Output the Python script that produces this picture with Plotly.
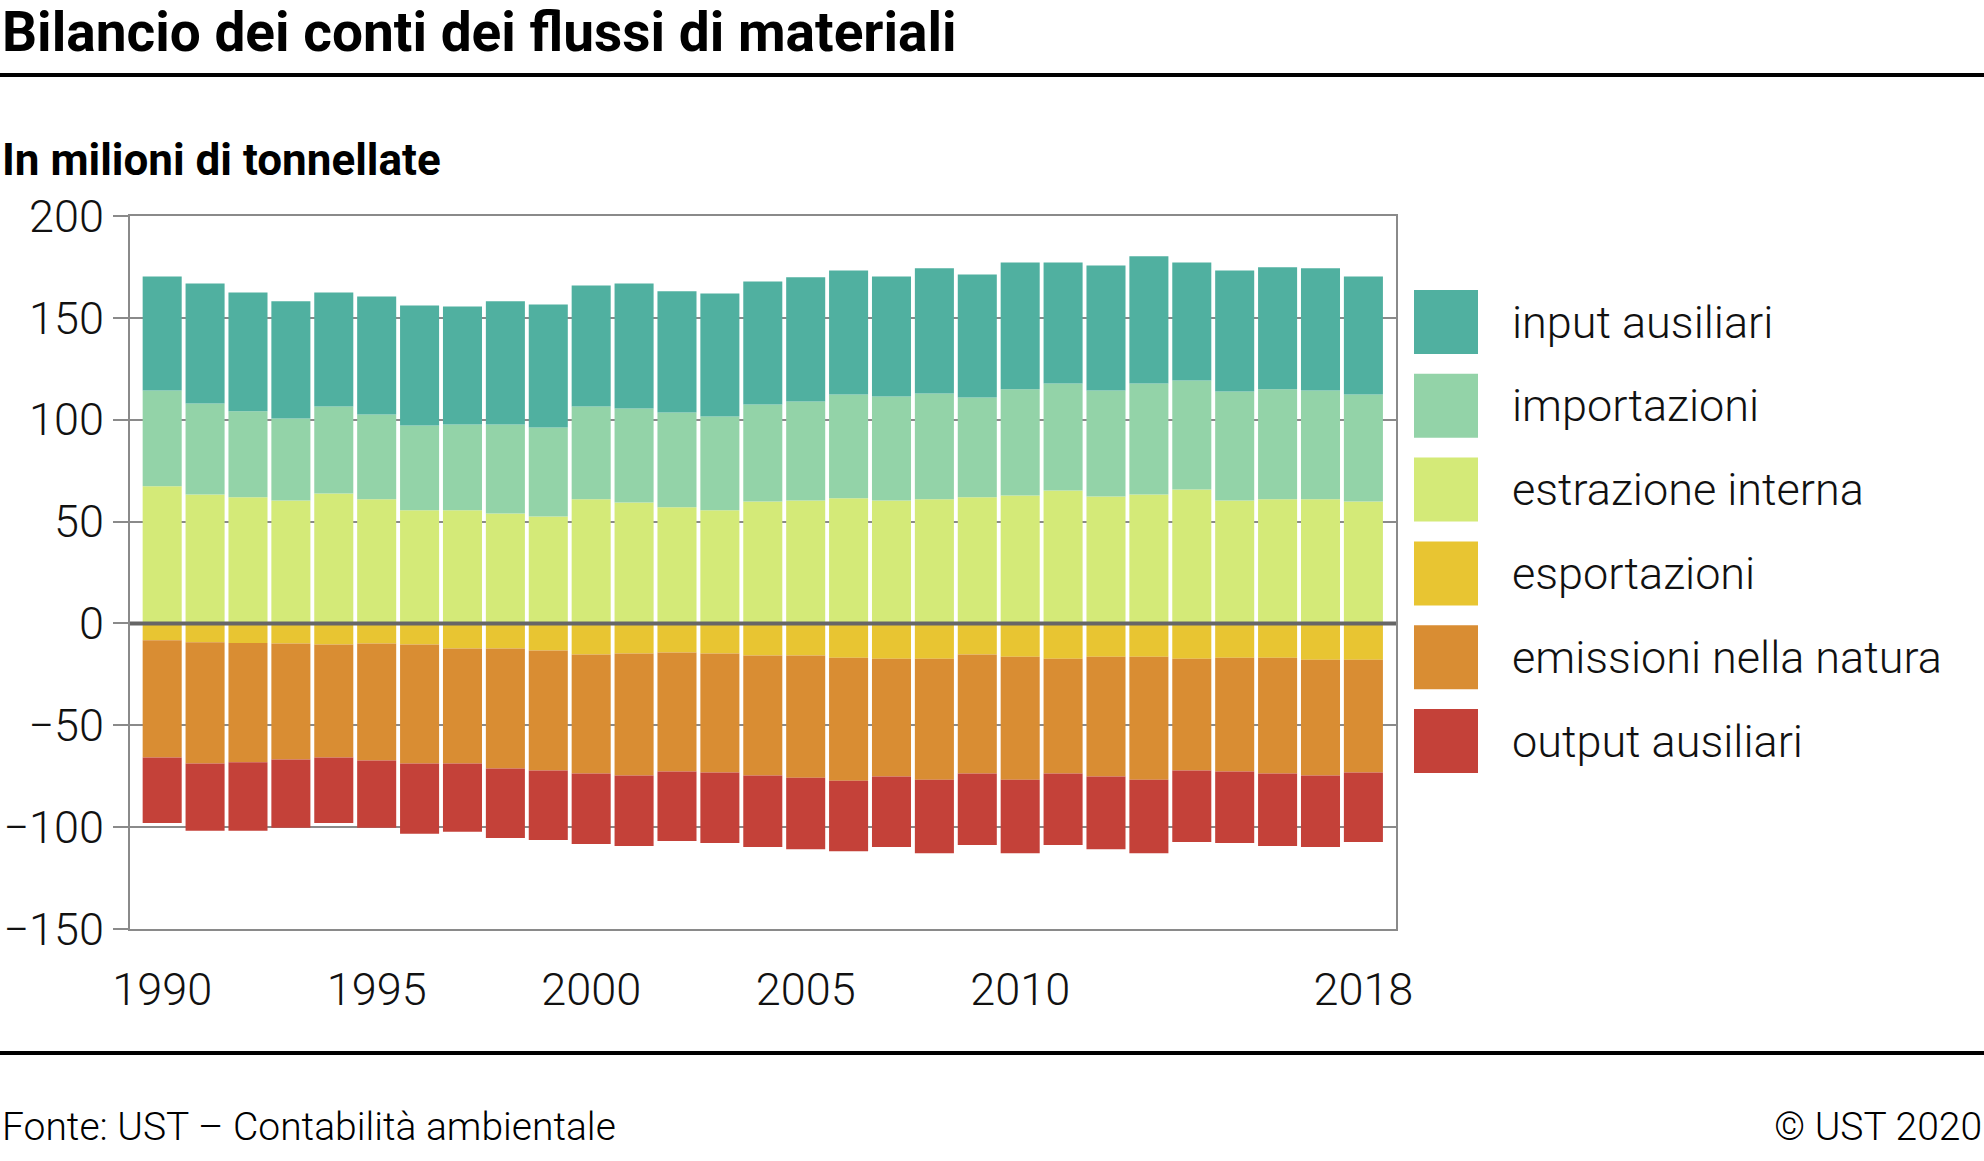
import plotly.graph_objects as go

# ---------------- data (million tonnes) ----------------
years = list(range(1990, 2019))

estrazione_interna = [67.3, 63.3, 61.9, 60.4, 63.8, 60.9, 55.5, 55.5, 54.0, 52.5,
                      60.9, 59.4, 57.0, 55.5, 59.9, 60.4, 61.4, 60.4, 60.9, 61.9,
                      62.8, 65.3, 62.3, 63.3, 65.8, 60.4, 60.9, 60.9, 59.9]
importazioni = [47.1, 44.7, 42.2, 40.2, 42.7, 41.7, 41.7, 42.2, 43.7, 43.7,
                45.6, 46.1, 46.6, 46.1, 47.6, 48.6, 51.0, 51.0, 52.0, 49.0,
                52.1, 52.5, 52.1, 54.5, 53.5, 53.5, 54.0, 53.5, 52.5]
input_ausiliari = [55.9, 58.9, 58.4, 57.5, 56.0, 57.9, 58.9, 57.9, 60.4, 60.4,
                   59.4, 61.4, 59.4, 60.4, 60.4, 60.9, 60.9, 58.9, 61.4, 60.4,
                   62.3, 59.4, 61.3, 62.4, 57.9, 59.4, 59.9, 59.9, 57.9]
esportazioni = [-8.3, -9.3, -9.6, -9.8, -10.3, -9.8, -10.3, -12.3, -12.3, -13.3,
                -15.3, -14.8, -14.3, -14.8, -15.8, -15.8, -16.8, -17.3, -17.3, -15.3,
                -16.3, -17.3, -16.3, -16.3, -17.3, -16.8, -16.8, -17.8, -17.8]
emissioni_natura = [-57.5, -59.4, -58.6, -57.0, -55.5, -57.5, -58.4, -56.4, -58.9, -58.9,
                    -58.4, -59.9, -58.4, -58.4, -58.9, -59.9, -60.4, -57.9, -59.4, -58.4,
                    -60.4, -56.4, -58.9, -60.4, -54.9, -55.9, -56.9, -56.9, -55.4]
output_ausiliari = [-32.2, -33.1, -33.6, -33.5, -32.2, -33.0, -34.6, -33.6, -34.1, -34.1,
                    -34.6, -34.6, -34.1, -34.6, -35.1, -35.1, -34.6, -34.6, -36.1, -35.1,
                    -36.1, -35.1, -35.6, -36.1, -35.1, -35.1, -35.6, -35.1, -34.1]

x_tickvals = [1990, 1995, 2000, 2005, 2010, 2018]
y_tickvals = [-150, -100, -50, 0, 50, 100, 150, 200]

series = [
    ("estrazione interna", estrazione_interna, "#d4ea78"),
    ("importazioni", importazioni, "#93d3a8"),
    ("input ausiliari", input_ausiliari, "#50b0a0"),
    ("esportazioni", esportazioni, "#e8c532"),
    ("emissioni nella natura", emissioni_natura, "#d98d33"),
    ("output ausiliari", output_ausiliari, "#c44139"),
]
legend_order = ["input ausiliari", "importazioni", "estrazione interna",
                "esportazioni", "emissioni nella natura", "output ausiliari"]

# ---------------- layout geometry (pixels) ----------------
W, H = 1984, 1161
L, R, T, B = 130, 1396, 216, 929
FONT = "Roboto"


def px_x(px):
    return (px - L) / (R - L)


def px_y(py):
    return (B - py) / (B - T)


fig = go.Figure()
for name, vals, col in series:
    fig.add_trace(go.Bar(x=years, y=vals, name=name, marker=dict(color=col, line=dict(width=0)),
                         showlegend=False))

axis_col = "#8a8a8a"
fig.update_layout(
    width=W, height=H,
    margin=dict(l=L, r=W - R, t=T, b=H - B, pad=0, autoexpand=False),
    paper_bgcolor="white", plot_bgcolor="white",
    barmode="relative", bargap=0.09,
    showlegend=False,
    font=dict(family=FONT, color="#111"),
)
fig.update_xaxes(
    range=[1989.25, 2018.76], tickvals=x_tickvals, ticktext=[str(v) for v in x_tickvals],
    showgrid=False, zeroline=False, automargin=False,
    showline=True, mirror=True, linecolor=axis_col, linewidth=2,
    ticks="outside", ticklen=20, tickcolor="rgba(0,0,0,0)",
    tickfont=dict(family=FONT, size=45, weight=300, color="#111"),
)
fig.update_yaxes(
    range=[-150, 200], tickvals=y_tickvals,
    showgrid=True, gridcolor=axis_col, gridwidth=2, zeroline=False, automargin=False,
    showline=True, mirror=True, linecolor=axis_col, linewidth=2,
    ticks="outside", ticklen=15, tickwidth=2, tickcolor=axis_col,
    tickfont=dict(family=FONT, size=45, weight=300, color="#111"),
)

shapes = []
# zero line above bars
shapes.append(dict(type="line", xref="paper", yref="y", x0=0, x1=1, y0=0, y1=0,
                   line=dict(color="#666666", width=4), layer="above"))
# horizontal rules
for py in (75, 1053):
    shapes.append(dict(type="line", xref="paper", yref="paper", x0=px_x(0), x1=px_x(W),
                       y0=px_y(py), y1=px_y(py), line=dict(color="black", width=4), layer="above"))

annotations = [
    dict(text="<b>Bilancio dei conti dei flussi di materiali</b>", x=px_x(0), y=px_y(32),
         xref="paper", yref="paper", xanchor="left", yanchor="middle", showarrow=False,
         font=dict(family=FONT, size=55, color="black")),
    dict(text="<b>In milioni di tonnellate</b>", x=px_x(0), y=px_y(160),
         xref="paper", yref="paper", xanchor="left", yanchor="middle", showarrow=False,
         font=dict(family=FONT, size=44, color="black")),
    dict(text="Fonte: UST – Contabilità ambientale", x=px_x(0), y=px_y(1127),
         xref="paper", yref="paper", xanchor="left", yanchor="middle", showarrow=False,
         font=dict(family=FONT, size=39, weight=300, color="black")),
    dict(text="© UST 2020", x=px_x(W), y=px_y(1127),
         xref="paper", yref="paper", xanchor="right", yanchor="middle", showarrow=False,
         font=dict(family=FONT, size=39, weight=300, color="black")),
]

# manual legend with large swatches
colors = {n: c for n, _, c in series}
for i, name in enumerate(legend_order):
    top = 290 + i * 83.8
    shapes.append(dict(type="rect", xref="paper", yref="paper",
                       x0=px_x(1414), x1=px_x(1478), y0=px_y(top), y1=px_y(top + 64),
                       fillcolor=colors[name], line=dict(width=0)))
    annotations.append(dict(text=name, x=px_x(1510), y=px_y(top + 32), xref="paper", yref="paper",
                            xanchor="left", yanchor="middle", showarrow=False,
                            font=dict(family=FONT, size=45, weight=300, color="#111")))

fig.update_layout(shapes=shapes, annotations=annotations)
fig.write_html("out.html", config={"displayModeBar": False},
               post_script="document.body.style.margin='0px';")
